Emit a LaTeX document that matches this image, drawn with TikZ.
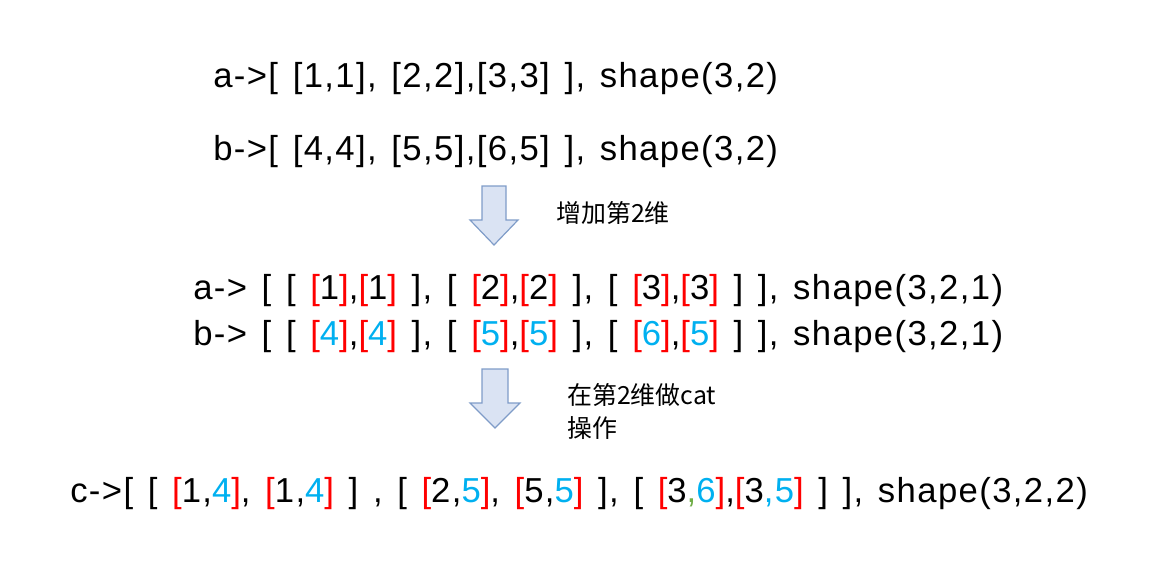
\documentclass[tikz,border=0pt]{standalone}
\usepackage{fontspec}
\setmainfont{Liberation Sans}[LetterSpace=4, WordSpace=1.33]
\newfontfamily\cjk{Noto Sans CJK SC}
\usepackage{xcolor}
\usetikzlibrary{positioning}

\definecolor{brred}{HTML}{FF0000}
\definecolor{numblue}{HTML}{00B0F0}
\definecolor{commagreen}{HTML}{70AD47}
\definecolor{arrowfill}{HTML}{DAE3F3}
\definecolor{arrowline}{HTML}{7F9CC8}

\newcommand{\rbr}[1]{\textcolor{brred}{[}#1\textcolor{brred}{]}}
\newcommand{\bnum}[1]{\textcolor{numblue}{#1}}

\begin{document}
\begin{tikzpicture}[
  x=0.75pt, y=-0.75pt,
  font=\fontsize{26}{30}\selectfont,
  line/.style = {anchor=base west, inner sep=0pt},
  note/.style = {anchor=west, inner sep=0pt, align=left,
                 font=\fontsize{18.7}{24.8}\selectfont\cjk},
  blockarrow/.style = {draw=arrowline, fill=arrowfill, line width=0.9pt,
                       line join=miter}
]
\useasboundingbox (0,0) rectangle (1167,578);

% Input tensors
\node[line] (a1) at (213,87) {a->[ [1,1], [2,2],[3,3] ], shape(3,2)};
\node[line] (b1) at (213,160) {b->[ [4,4], [5,5],[6,5] ], shape(3,2)};

% After adding dimension 2
\node[line] (a2) at (193,299) {a-> [ [ \rbr{1},\rbr{1} ], [ \rbr{2},\rbr{2} ], [ \rbr{3},\rbr{3} ] ], shape(3,2,1)};
\node[line] (b2) at (193,345) {b-> [ [ \rbr{\bnum{4}},\rbr{\bnum{4}} ], [ \rbr{\bnum{5}},\rbr{\bnum{5}} ], [ \rbr{\bnum{6}},\rbr{\bnum{5}} ] ], shape(3,2,1)};

% Result of cat
\node[line] (c) at (70,502) {c->[ [ \rbr{1,\bnum{4}}, \rbr{1,\bnum{4}} ] , [ \rbr{2,\bnum{5}}, \rbr{5,\bnum{5}} ], [ \rbr{3\textcolor{commagreen}{,}\bnum{6}},\rbr{3\bnum{,5}} ] ], shape(3,2,2)};

% Block arrows
\coordinate (arr1) at (494,186);
\coordinate (arr2) at (495,369);
\draw[blockarrow] (arr1) ++(-12,0) -- ++(24,0) -- ++(0,34) -- ++(12,0)
  -- ++(-24,25) -- ++(-24,-25) -- ++(12,0) -- cycle;
\draw[blockarrow] (arr2) ++(-13,0) -- ++(26,0) -- ++(0,34) -- ++(12,0)
  -- ++(-25,25) -- ++(-25,-25) -- ++(12,0) -- cycle;

% Step notes
\node[note] (n1) at (556,213) {增加第2维};
\node[note, anchor=north west] (n2) at (567,383) {在第2维做cat\\操作};

\end{tikzpicture}
\end{document}
